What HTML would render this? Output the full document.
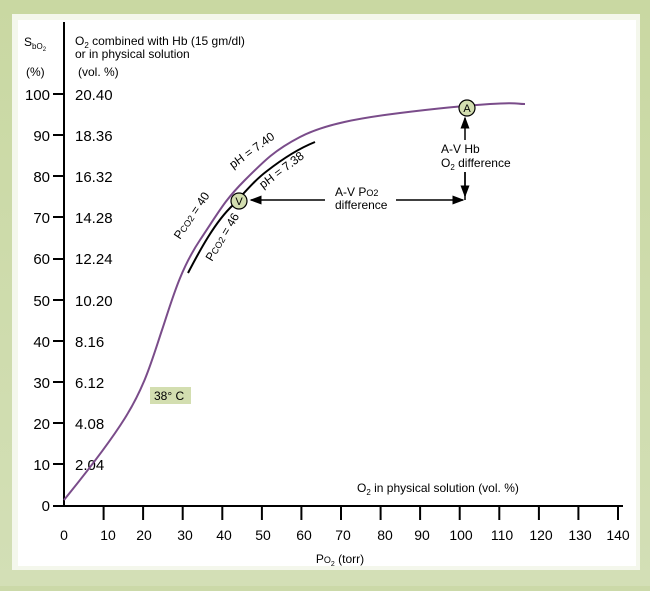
<!DOCTYPE html>
<html><head><style>
html,body{margin:0;padding:0;}
body{width:650px;height:586px;overflow:hidden;background:#cbd9a8;font-family:"Liberation Sans",sans-serif;}
</style></head><body>
<svg width="650" height="586" xmlns="http://www.w3.org/2000/svg" font-family="Liberation Sans, sans-serif">
<defs>
<linearGradient id="bg" x1="0" y1="0" x2="0" y2="1"><stop offset="0" stop-color="#c9d8a2"/><stop offset="1" stop-color="#d3dfb6"/></linearGradient>
<marker id="ar" markerWidth="8" markerHeight="8" refX="7" refY="4" orient="auto"><path d="M0,1 L8,4 L0,7 Z" fill="#000"/></marker>
</defs>
<rect width="650" height="586" fill="url(#bg)"/>
<rect x="12" y="14" width="628" height="556" fill="#f4f7ec"/>
<rect x="18" y="20" width="618" height="546" fill="#fff"/>
<g fill="#000">
<text x="24" y="46" font-size="12">S<tspan font-size="8" dy="3">bO</tspan><tspan font-size="6" dy="2">2</tspan></text>
<text x="75" y="45" font-size="12">O<tspan font-size="8" dy="3">2</tspan><tspan dy="-3"> combined with Hb (15 gm/dl)</tspan></text>
<text x="75" y="58" font-size="12">or in physical solution</text>
<text x="26" y="76" font-size="12">(%)</text>
<text x="78" y="76" font-size="12">(vol. %)</text>
</g>
<line x1="64" y1="22" x2="64" y2="506" stroke="#000" stroke-width="2"/>
<line x1="64" y1="506" x2="623" y2="506" stroke="#000" stroke-width="2"/>
<g font-size="15" fill="#000">
<g text-anchor="end">
<text x="50" y="100">100</text><text x="50" y="141">90</text><text x="50" y="182">80</text><text x="50" y="223">70</text><text x="50" y="264">60</text><text x="50" y="306">50</text><text x="50" y="347">40</text><text x="50" y="388">30</text><text x="50" y="429">20</text><text x="50" y="470">10</text><text x="50" y="511">0</text>
</g>
<text x="75" y="100">20.40</text><text x="75" y="141">18.36</text><text x="75" y="182">16.32</text><text x="75" y="223">14.28</text><text x="75" y="264">12.24</text><text x="75" y="306">10.20</text><text x="75" y="347">8.16</text><text x="75" y="388">6.12</text><text x="75" y="429">4.08</text><text x="75" y="470">2.04</text>
</g>
<g stroke="#000" stroke-width="2">
<line x1="53" y1="94" x2="64" y2="94"/><line x1="53" y1="135" x2="64" y2="135"/><line x1="53" y1="176" x2="64" y2="176"/><line x1="53" y1="217" x2="64" y2="217"/><line x1="53" y1="259" x2="64" y2="259"/><line x1="53" y1="300" x2="64" y2="300"/><line x1="53" y1="341" x2="64" y2="341"/><line x1="53" y1="382" x2="64" y2="382"/><line x1="53" y1="423" x2="64" y2="423"/><line x1="53" y1="464" x2="64" y2="464"/><line x1="53" y1="506" x2="64" y2="506"/>
</g>
<g stroke="#000" stroke-width="2">
<line x1="103.6" y1="506" x2="103.6" y2="520"/><line x1="143.1" y1="506" x2="143.1" y2="520"/><line x1="182.7" y1="506" x2="182.7" y2="520"/><line x1="222.3" y1="506" x2="222.3" y2="520"/><line x1="261.9" y1="506" x2="261.9" y2="520"/><line x1="301.4" y1="506" x2="301.4" y2="520"/><line x1="341" y1="506" x2="341" y2="520"/><line x1="380.6" y1="506" x2="380.6" y2="520"/><line x1="420.1" y1="506" x2="420.1" y2="520"/><line x1="459.7" y1="506" x2="459.7" y2="520"/><line x1="499.3" y1="506" x2="499.3" y2="520"/><line x1="538.9" y1="506" x2="538.9" y2="520"/><line x1="578.4" y1="506" x2="578.4" y2="520"/><line x1="618" y1="506" x2="618" y2="520"/>
</g>
<g font-size="14" fill="#000" text-anchor="middle">
<text x="64" y="540">0</text><text x="108" y="540">10</text><text x="144" y="540">20</text><text x="185" y="540">30</text><text x="224" y="540">40</text><text x="263" y="540">50</text><text x="304" y="540">60</text><text x="343" y="540">70</text><text x="385" y="540">80</text><text x="422" y="540">90</text><text x="461" y="540">100</text><text x="502" y="540">110</text><text x="541" y="540">120</text><text x="580" y="540">130</text><text x="618" y="540">140</text>
</g>
<text x="340" y="563" font-size="12" text-anchor="middle">P<tspan font-size="9">O</tspan><tspan font-size="7" dy="3">2</tspan><tspan dy="-3"> (torr)</tspan></text>
<text x="357" y="492" font-size="12">O<tspan font-size="8" dy="3">2</tspan><tspan dy="-3"> in physical solution (vol. %)</tspan></text>
<path d="M64,500 C76,485 105,450 125,418 S152,360 162,330 S180,270 200,240 S225,200 245,180 S275,150 300,137 S360,118 400,113 S460,106 490,104 S515,104 525,104" fill="none" stroke="#7a4c8a" stroke-width="2"/>
<path d="M188,273 C200,250 215,222 233,205 C245,192 255,180 267,171 C285,157 300,148 315,142" fill="none" stroke="#000" stroke-width="2"/>
<line x1="465" y1="200" x2="465" y2="118" stroke="#000" stroke-width="1.5" marker-end="url(#ar)"/>
<line x1="396" y1="200" x2="463" y2="200" stroke="#000" stroke-width="1.5" marker-end="url(#ar)"/>
<line x1="325" y1="200" x2="251" y2="200" stroke="#000" stroke-width="1.5" marker-end="url(#ar)"/>
<rect x="440" y="140" width="60" height="32" fill="#fff"/>
<line x1="465" y1="172" x2="465" y2="196" stroke="#000" stroke-width="1.5" marker-end="url(#ar)"/>
<g font-size="12" fill="#000">
<text x="441" y="153">A-V Hb</text>
<text x="441" y="167">O<tspan font-size="8" dy="3">2</tspan><tspan dy="-3"> difference</tspan></text>
<text x="335" y="196">A-V P<tspan font-size="9">O2</tspan></text>
<text x="335" y="209">difference</text>
</g>
<circle cx="467" cy="108" r="8" fill="#d3deb0" stroke="#000" stroke-width="1.2"/>
<text x="467" y="112" font-size="11" text-anchor="middle">A</text>
<circle cx="239" cy="201" r="8" fill="#d3deb0" stroke="#000" stroke-width="1.2"/>
<text x="239" y="205" font-size="11" text-anchor="middle">V</text>
<g font-size="12" fill="#000">
<text transform="translate(233,169) rotate(-36)">pH = 7.40</text>
<text transform="translate(263,189) rotate(-37)">pH = 7.38</text>
<text transform="translate(180,240) rotate(-56)">P<tspan font-size="9">CO2</tspan> = 40</text>
<text transform="translate(212,262) rotate(-59)">P<tspan font-size="9">CO2</tspan> = 46</text>
</g>
<rect x="150" y="387" width="41" height="17" fill="#d3deb0"/>
<text x="154" y="400" font-size="12">38° C</text>
</svg>
</body></html>
